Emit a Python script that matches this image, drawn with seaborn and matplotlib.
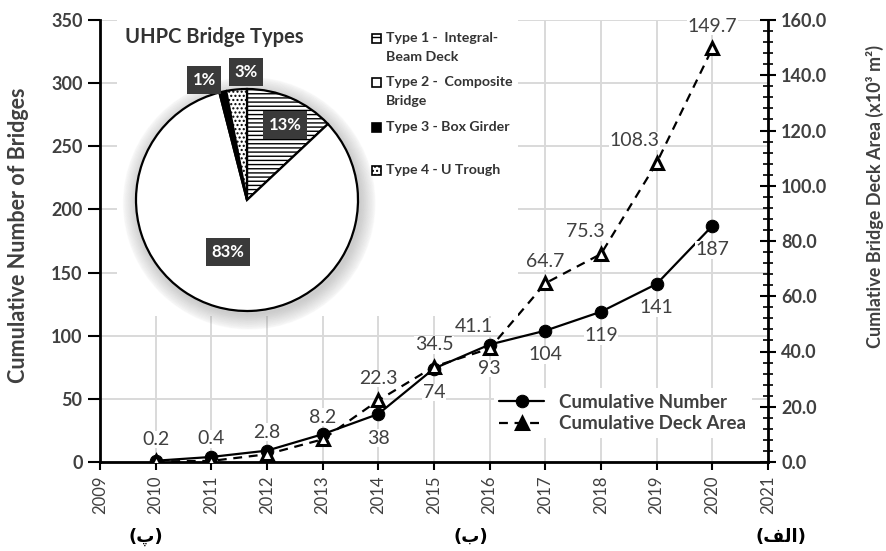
import matplotlib
matplotlib.use("Agg")
import matplotlib.pyplot as plt
import seaborn as sns
import pandas as pd
from matplotlib.patches import Rectangle, Circle
from matplotlib.ticker import MultipleLocator

# data
years = [2010, 2011, 2012, 2013, 2014, 2015, 2016, 2017, 2018, 2019, 2020]
bridge_count = [1, 4, 9, 22, 38, 74, 93, 104, 119, 141, 187]
deck_area = [0.2, 0.4, 2.8, 8.2, 22.3, 34.5, 41.1, 64.7, 75.3, 108.3, 149.7]
count_label_from = 2014

type_labels = ["Type 1 -  Integral-\nBeam Deck", "Type 2 -  Composite\nBridge",
               "Type 3 - Box Girder", "Type 4 - U Trough"]
type_shares = [13, 83, 1, 3]
type_colors = ["white", "white", "black", "white"]
type_hatches = ["----", "", "", "...."]

panel_labels = ["(\u067e)", "(\u0628)", "(\ufed2\ufedf\ufe8d)"]

W, H = 886, 551
GRAY = "#404040"


def fx(px):
    return px / W


def fy(py):
    return 1 - py / H


sns.set_theme(style="white")
plt.rcParams["font.family"] = ["Lato", "DejaVu Sans"]

fig = plt.figure(figsize=(8.86, 5.51), dpi=100)
ax = fig.add_axes([fx(100), fy(462), 668 / W, 442 / H])

df = pd.DataFrame({"Year": years, "Number": bridge_count, "Area": deck_area})

sns.lineplot(data=df, x="Year", y="Number", ax=ax, color="black", marker="o",
             markersize=9, markeredgecolor="black", linewidth=1.6,
             label="Cumulative Number", legend=False)
ax.set_xlim(2009, 2021)
ax.set_ylim(0, 350)
ax.set_xticks(range(2009, 2022))
ax.set_yticks(range(0, 351, 50))
ax.grid(True, color="#d9d9d9", linewidth=1.4)
ax.set_xlabel("")
ax.set_ylabel("")
for s in ["top", "right"]:
    ax.spines[s].set_visible(False)
for s in ["left", "bottom"]:
    ax.spines[s].set_color("black")
    ax.spines[s].set_linewidth(2)
ax.tick_params(axis="y", direction="out", length=9, width=1.5, color="black",
               labelsize=13, labelcolor=GRAY, left=True)
ax.tick_params(axis="x", direction="out", length=6, width=1.5, color="black",
               labelsize=12, labelcolor=GRAY, rotation=90, bottom=True)
for t in ax.get_yticklabels():
    t.set_fontweight("bold")

ax2 = ax.twinx()
sns.lineplot(data=df, x="Year", y="Area", ax=ax2, color="black", marker="^",
             markersize=9, markeredgecolor="black", markerfacecolor="white",
             markeredgewidth=2.2, linewidth=1.6, linestyle=(0, (4, 3)),
             label="Cumulative Deck Area", legend=False)
ax2.set_ylim(0, 160)
ax2.set_yticks(range(0, 161, 20))
ax2.set_yticklabels([f"{v:.1f}" for v in range(0, 161, 20)])
ax2.yaxis.set_minor_locator(MultipleLocator(4))
ax2.set_ylabel("")
for s in ["top", "left", "bottom"]:
    ax2.spines[s].set_visible(False)
ax2.spines["right"].set_color("black")
ax2.spines["right"].set_linewidth(2)
ax2.tick_params(axis="y", which="major", direction="inout", length=12, width=1.5,
                color="black", labelsize=13, labelcolor=GRAY, right=True)
ax2.tick_params(axis="y", which="minor", direction="inout", length=7, width=1.2,
                color="black", right=True)
for t in ax2.get_yticklabels():
    t.set_fontweight("bold")

# data labels
area_dx = {2016: -16, 2018: -16, 2019: -22}
for yr, v in zip(years, deck_area):
    ax2.annotate(f"{v}", (yr, v), xytext=(area_dx.get(yr, 0), 22),
                 textcoords="offset pixels", ha="center", va="center",
                 fontsize=14, color=GRAY,
                 bbox=dict(fc="white", ec="none", pad=0.3))
for yr, v in zip(years, bridge_count):
    if yr >= count_label_from:
        ax.annotate(f"{v}", (yr, v), xytext=(0, -24),
                    textcoords="offset pixels", ha="center", va="center",
                    fontsize=14, color=GRAY,
                    bbox=dict(fc="white", ec="none", pad=0.3))

handles = ax.get_lines()[:1] + ax2.get_lines()[:1]
leg = ax2.legend(handles, ["Cumulative Number", "Cumulative Deck Area"],
                 loc="center", bbox_to_anchor=((623 - 100) / 668, (462 - 413) / 442),
                 frameon=True, facecolor="white", edgecolor="none", framealpha=1,
                 handlelength=2.4, handletextpad=0.8, labelspacing=0.25,
                 prop={"size": 13.5, "weight": "bold"}, borderpad=0.3)
for t in leg.get_texts():
    t.set_color(GRAY)
leg.get_lines()[1].set_markerfacecolor("black")

fig.text(fx(19), fy(235), "Cumulative Number of Bridges", rotation=90,
         ha="center", va="center", fontsize=15.5, fontweight="bold", color=GRAY)
fig.text(fx(875), fy(197), "Cumlative Bridge Deck Area (x10\u00b3 m\u00b2)", rotation=90,
         ha="center", va="center", fontsize=13, fontweight="bold", color=GRAY)

# inset: pie of bridge types
bg = fig.add_axes([fx(117), fy(316), (518 - 117) / W, 316 / H])
bg.set_facecolor("white")
bg.set_xticks([])
bg.set_yticks([])
for s in bg.spines.values():
    s.set_visible(False)

pax = fig.add_axes([fx(247 - 111), fy(200 + 111), 222 / W, 222 / H])
plt.rcParams["hatch.linewidth"] = 1.0
for i in range(12):
    pax.add_patch(Circle((0.02, -0.03), 1 + 0.012 * i, color="#808080",
                         alpha=0.035, clip_on=False, zorder=0))
wedges, _ = pax.pie(type_shares, colors=type_colors, hatch=type_hatches,
                    startangle=90, counterclock=False, radius=1,
                    wedgeprops=dict(edgecolor="black", linewidth=1.6))
pax.set_xlim(-1, 1)
pax.set_ylim(-1, 1)

pct_pos = [(285, 125), (228, 252), (204, 80), (246, 72)]
for share, (px, py) in zip(type_shares, pct_pos):
    pax.text((px - 247) / 111, (200 - py) / 111, f"{share}%", ha="center", va="center",
             fontsize=12, fontweight="bold", color="white", clip_on=False,
             bbox=dict(fc="#3a3a3a", ec="none", pad=0.35, boxstyle="square"))

fig.text(fx(125), fy(37), "UHPC Bridge Types", ha="left", va="center",
         fontsize=14.5, fontweight="bold", color="#333333")

entry_y = [38, 82, 127, 170]
for lab, col, hat, y in zip(type_labels, type_colors, type_hatches, entry_y):
    fig.add_artist(Rectangle((fx(372), fy(y + 5)), 9 / W, 9 / H, transform=fig.transFigure,
                             facecolor=col, edgecolor="black", hatch=hat.replace("----", "--"),
                             linewidth=1.2))
    for k, line in enumerate(lab.split("\n")):
        fig.text(fx(386), fy(y + 19 * k), line, ha="left", va="center",
                 fontsize=10.2, fontweight="bold", color="#333333")

for lab, px in zip(panel_labels, [146, 471, 781]):
    fig.text(fx(px), fy(537), lab, ha="center", va="center", fontsize=13,
             fontweight="bold", family=["DejaVu Sans"], color="black")

fig.savefig("out.png", dpi=100)
